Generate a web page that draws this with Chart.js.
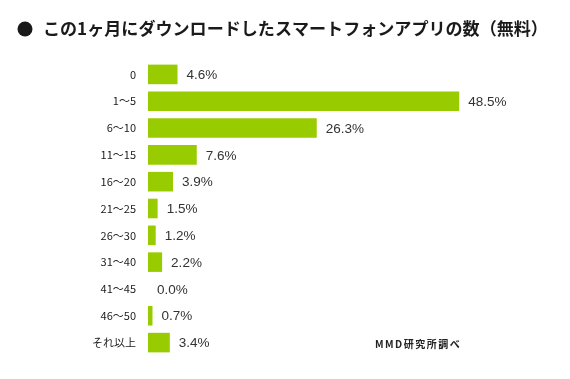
<!DOCTYPE html>
<html>
<head>
<meta charset="utf-8">
<script src="https://cdn.jsdelivr.net/npm/chart.js@4/dist/chart.umd.min.js"></script>
<style>
  html, body { margin: 0; padding: 0; background: #ffffff; }
  #wrap { width: 570px; height: 379px; position: relative; }
</style>
</head>
<body>
<div id="wrap"><canvas id="c" width="570" height="379"></canvas></div>
<script>
const titleText = 'この1ヶ月にダウンロードしたスマートフォンアプリの数（無料）';
const sourceText = 'MMD研究所調べ';
const categories = ['0', '1～5', '6～10', '11～15', '16～20', '21～25', '26～30', '31～40', '41～45', '46～50', 'それ以上'];
const percentValues = [4.6, 48.5, 26.3, 7.6, 3.9, 1.5, 1.2, 2.2, 0.0, 0.7, 3.4];

const barColor = '#99cc00';
const cjk = '"Noto Sans CJK JP", "Noto Sans", sans-serif';

const decorPlugin = {
  id: 'decor',
  afterDatasetsDraw(chart) {
    const ctx = chart.ctx;
    const meta = chart.getDatasetMeta(0);
    ctx.save();
    // value labels
    ctx.font = '13.5px "Liberation Sans", Arial, sans-serif';
    ctx.fillStyle = '#333333';
    ctx.textAlign = 'left';
    ctx.textBaseline = 'middle';
    meta.data.forEach((bar, i) => {
      ctx.fillText(percentValues[i].toFixed(1) + '%', bar.x + 9, bar.y + 1);
    });
    // title bullet
    ctx.fillStyle = '#1a1a1a';
    ctx.beginPath();
    ctx.arc(25, 29, 7.5, 0, Math.PI * 2);
    ctx.fill();
    // title text scaled to span
    let fs = 17;
    ctx.font = 'bold ' + fs + 'px ' + cjk;
    const w = ctx.measureText(titleText).width;
    fs = fs * 505 / w;
    ctx.font = 'bold ' + fs.toFixed(2) + 'px ' + cjk;
    ctx.fillStyle = '#1a1a1a';
    ctx.textBaseline = 'middle';
    ctx.fillText(titleText, 43, 29);
    // source note
    ctx.font = 'bold 10px ' + cjk;
    ctx.fillStyle = '#222222';
    if ('letterSpacing' in ctx) ctx.letterSpacing = '1.5px';
    ctx.fillText(sourceText, 375, 344);
    ctx.restore();
  }
};

new Chart(document.getElementById('c'), {
  type: 'bar',
  data: {
    labels: categories,
    datasets: [{
      data: percentValues,
      backgroundColor: barColor,
      borderWidth: 0,
      categoryPercentage: 1.0,
      barPercentage: 0.73
    }]
  },
  options: {
    indexAxis: 'y',
    responsive: false,
    animation: false,
    devicePixelRatio: 1,
    layout: { padding: { top: 61, bottom: 23, left: 0, right: 37 } },
    plugins: {
      legend: { display: false },
      tooltip: { enabled: false },
      title: { display: false }
    },
    scales: {
      x: { display: false, min: 0, max: 60 },
      y: {
        grid: { display: false, drawTicks: false },
        border: { display: false },
        ticks: {
          padding: 12,
          color: '#1a1a1a',
          font: { family: cjk, size: 11 }
        },
        afterFit(scale) { scale.width = 148; }
      }
    }
  },
  plugins: [decorPlugin]
});
</script>
</body>
</html>
